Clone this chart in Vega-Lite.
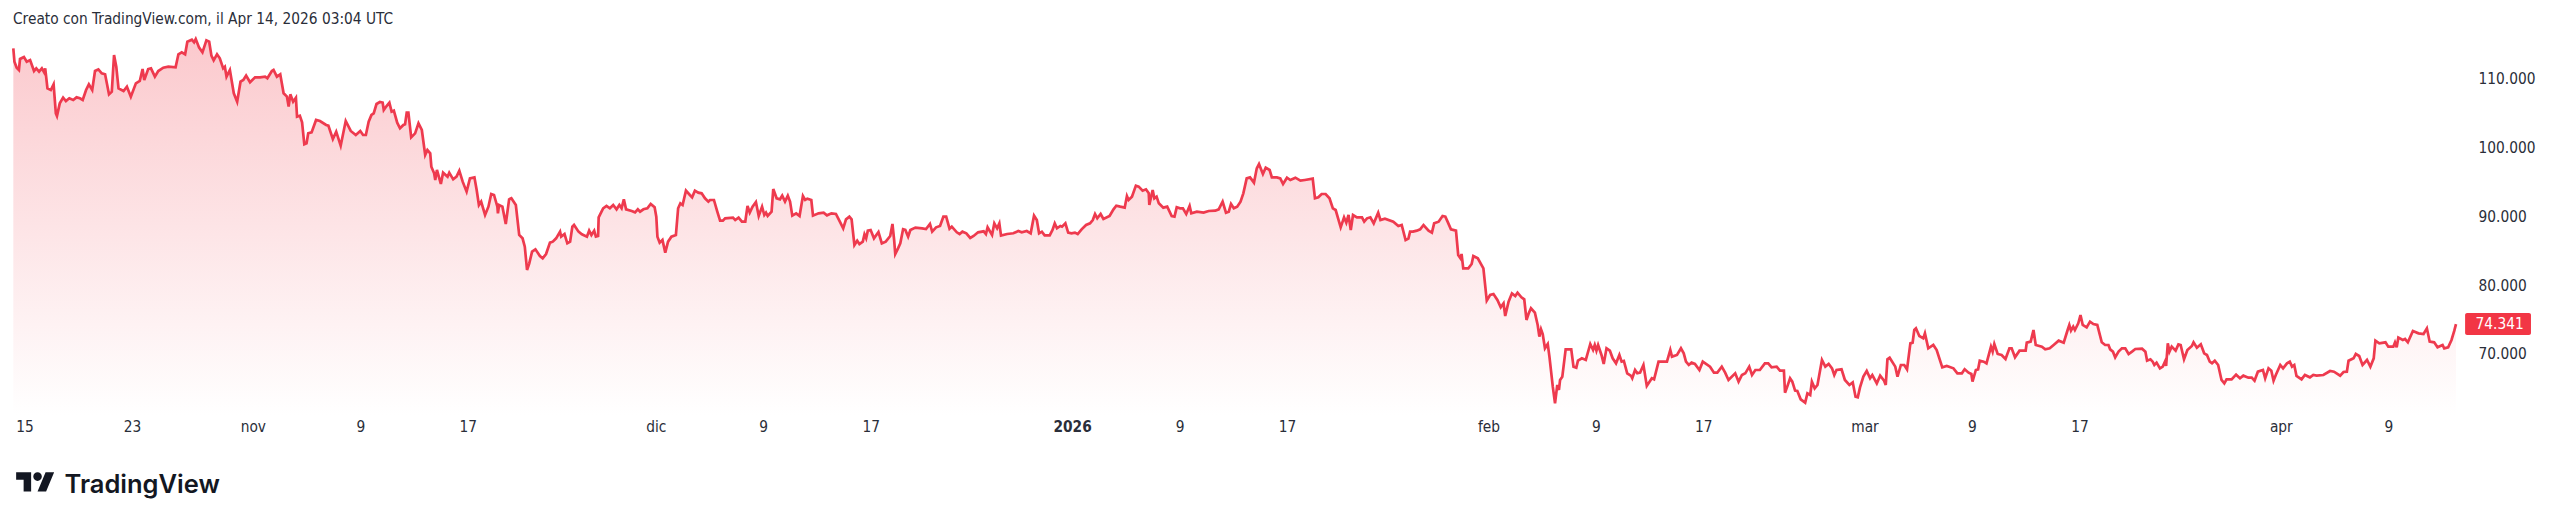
{"$schema":"https://vega.github.io/schema/vega-lite/v6.json","autosize":{"type":"none"},"padding":{"left":13,"top":34,"right":100,"bottom":106},"width":2447,"height":381,"background":"#ffffff","title":{"text":"Creato con TradingView.com, il Apr 14, 2026 03:04 UTC","anchor":"start","frame":"group","offset":6,"font":"DejaVu Sans Condensed","fontSize":15.3,"fontWeight":"normal","color":"#2a2e39"},"config":{"view":{"stroke":null}},"data":{"values":[
{"t":"2025-10-14T04:00","v":114460},{"t":"2025-10-14T06:00","v":112520},{"t":"2025-10-14T10:00","v":111650},{"t":"2025-10-14T14:00","v":111310},{"t":"2025-10-14T16:00","v":112910},{"t":"2025-10-14T23:00","v":113200},{"t":"2025-10-15T04:00","v":112520},{"t":"2025-10-15T10:00","v":112760},{"t":"2025-10-15T17:00","v":111160},{"t":"2025-10-15T21:00","v":111550},{"t":"2025-10-16T02:00","v":111070},{"t":"2025-10-16T07:00","v":111550},{"t":"2025-10-16T11:00","v":110970},{"t":"2025-10-16T13:00","v":111550},{"t":"2025-10-16T17:00","v":108640},{"t":"2025-10-16T23:00","v":108400},{"t":"2025-10-17T04:00","v":109230},{"t":"2025-10-17T08:00","v":105000},{"t":"2025-10-17T10:00","v":104620},{"t":"2025-10-17T15:00","v":106460},{"t":"2025-10-17T21:00","v":107290},{"t":"2025-10-18T02:00","v":106800},{"t":"2025-10-18T08:00","v":107190},{"t":"2025-10-18T15:00","v":106950},{"t":"2025-10-18T21:00","v":107330},{"t":"2025-10-19T03:00","v":107190},{"t":"2025-10-19T08:00","v":106950},{"t":"2025-10-19T14:00","v":108400},{"t":"2025-10-19T19:00","v":109230},{"t":"2025-10-20T01:00","v":108400},{"t":"2025-10-20T06:00","v":111160},{"t":"2025-10-20T12:00","v":111400},{"t":"2025-10-20T18:00","v":110820},{"t":"2025-10-21T00:00","v":110680},{"t":"2025-10-21T07:00","v":107770},{"t":"2025-10-21T12:00","v":108160},{"t":"2025-10-21T16:00","v":113490},{"t":"2025-10-21T20:00","v":111790},{"t":"2025-10-22T00:00","v":108640},{"t":"2025-10-22T09:00","v":108250},{"t":"2025-10-22T15:00","v":108880},{"t":"2025-10-22T22:00","v":107430},{"t":"2025-10-23T07:00","v":109370},{"t":"2025-10-23T14:00","v":109710},{"t":"2025-10-23T19:00","v":111450},{"t":"2025-10-23T22:00","v":109850},{"t":"2025-10-24T05:00","v":111450},{"t":"2025-10-24T10:00","v":111550},{"t":"2025-10-24T17:00","v":110340},{"t":"2025-10-24T23:00","v":111160},{"t":"2025-10-25T08:00","v":111650},{"t":"2025-10-25T17:00","v":111790},{"t":"2025-10-26T06:00","v":111700},{"t":"2025-10-26T11:00","v":113590},{"t":"2025-10-26T17:00","v":113880},{"t":"2025-10-26T23:00","v":113590},{"t":"2025-10-27T03:00","v":115430},{"t":"2025-10-27T11:00","v":115720},{"t":"2025-10-27T15:00","v":115330},{"t":"2025-10-27T18:00","v":115820},{"t":"2025-10-28T00:00","v":114560},{"t":"2025-10-28T06:00","v":113880},{"t":"2025-10-28T13:00","v":115620},{"t":"2025-10-28T18:00","v":115430},{"t":"2025-10-28T22:00","v":113390},{"t":"2025-10-29T02:00","v":112720},{"t":"2025-10-29T08:00","v":113590},{"t":"2025-10-29T13:00","v":113010},{"t":"2025-10-29T19:00","v":111550},{"t":"2025-10-29T22:00","v":111790},{"t":"2025-10-30T01:00","v":110340},{"t":"2025-10-30T07:00","v":111310},{"t":"2025-10-30T14:00","v":107920},{"t":"2025-10-30T20:00","v":106700},{"t":"2025-10-31T02:00","v":109610},{"t":"2025-10-31T07:00","v":109850},{"t":"2025-10-31T12:00","v":110490},{"t":"2025-10-31T19:00","v":109520},
{"t":"2025-11-01T04:00","v":110240},{"t":"2025-11-01T13:00","v":110240},{"t":"2025-11-01T22:00","v":110340},{"t":"2025-11-02T02:00","v":110100},{"t":"2025-11-02T10:00","v":111160},{"t":"2025-11-02T13:00","v":111310},{"t":"2025-11-02T19:00","v":110340},{"t":"2025-11-03T01:00","v":110680},{"t":"2025-11-03T07:00","v":107920},{"t":"2025-11-03T13:00","v":107430},{"t":"2025-11-03T16:00","v":105980},{"t":"2025-11-03T19:00","v":107770},{"t":"2025-11-04T00:00","v":106700},{"t":"2025-11-04T05:00","v":107290},{"t":"2025-11-04T07:00","v":104520},{"t":"2025-11-04T12:00","v":104670},{"t":"2025-11-04T16:00","v":103700},{"t":"2025-11-04T20:00","v":100500},{"t":"2025-11-05T00:00","v":100640},{"t":"2025-11-05T03:00","v":102100},{"t":"2025-11-05T09:00","v":102240},{"t":"2025-11-05T17:00","v":104040},{"t":"2025-11-06T00:00","v":103890},{"t":"2025-11-06T11:00","v":103310},{"t":"2025-11-06T15:00","v":103210},{"t":"2025-11-06T23:00","v":101270},{"t":"2025-11-07T05:00","v":102340},{"t":"2025-11-07T13:00","v":100300},{"t":"2025-11-07T22:00","v":103890},{"t":"2025-11-08T07:00","v":102440},{"t":"2025-11-08T16:00","v":101860},{"t":"2025-11-09T00:00","v":102440},{"t":"2025-11-09T05:00","v":101855},{"t":"2025-11-09T10:00","v":101855},{"t":"2025-11-09T15:00","v":103790},{"t":"2025-11-09T20:00","v":104765},{"t":"2025-11-10T00:00","v":105005},{"t":"2025-11-10T05:00","v":106365},{"t":"2025-11-10T11:00","v":106655},{"t":"2025-11-10T16:00","v":106555},{"t":"2025-11-10T18:00","v":105490},{"t":"2025-11-10T23:00","v":106070},{"t":"2025-11-11T04:00","v":106555},{"t":"2025-11-11T08:00","v":105250},{"t":"2025-11-11T12:00","v":105395},{"t":"2025-11-11T18:00","v":103650},{"t":"2025-11-11T23:00","v":102825},{"t":"2025-11-12T05:00","v":103310},{"t":"2025-11-12T08:00","v":103405},{"t":"2025-11-12T11:00","v":105100},{"t":"2025-11-12T14:00","v":105100},{"t":"2025-11-12T19:00","v":101515},{"t":"2025-11-13T02:00","v":102095},{"t":"2025-11-13T08:00","v":103550},{"t":"2025-11-13T14:00","v":102580},{"t":"2025-11-13T20:00","v":98945},{"t":"2025-11-14T00:00","v":99670},{"t":"2025-11-14T05:00","v":99190},{"t":"2025-11-14T07:00","v":97250},{"t":"2025-11-14T12:00","v":96280},{"t":"2025-11-14T14:00","v":95310},{"t":"2025-11-14T17:00","v":96765},{"t":"2025-11-15T00:00","v":94730},{"t":"2025-11-15T04:00","v":96375},{"t":"2025-11-15T12:00","v":95795},{"t":"2025-11-15T15:00","v":96375},{"t":"2025-11-15T22:00","v":95405},{"t":"2025-11-16T04:00","v":95795},{"t":"2025-11-16T09:00","v":96665},{"t":"2025-11-16T15:00","v":95070},{"t":"2025-11-16T22:00","v":93615},{"t":"2025-11-17T04:00","v":95550},{"t":"2025-11-17T12:00","v":95700},{"t":"2025-11-17T16:00","v":93855},{"t":"2025-11-17T20:00","v":91675},{"t":"2025-11-18T00:00","v":92160},{"t":"2025-11-18T07:00","v":90220},{"t":"2025-11-18T13:00","v":91430},{"t":"2025-11-18T18:00","v":93275},{"t":"2025-11-18T23:00","v":93130},{"t":"2025-11-19T05:00","v":91430},{"t":"2025-11-19T06:00","v":90460},{"t":"2025-11-19T08:00","v":91675},{"t":"2025-11-19T14:00","v":91430},{"t":"2025-11-19T20:00","v":88910},{"t":"2025-11-20T02:00","v":92500},{"t":"2025-11-20T06:00","v":92645},{"t":"2025-11-20T14:00","v":91675},{"t":"2025-11-20T20:00","v":87310},{"t":"2025-11-21T02:00","v":86825},{"t":"2025-11-21T06:00","v":85615},{"t":"2025-11-21T10:00","v":82220},{"t":"2025-11-21T14:00","v":83190},{"t":"2025-11-21T19:00","v":84885},{"t":"2025-11-22T01:00","v":85225},{"t":"2025-11-22T09:00","v":84255},{"t":"2025-11-22T14:00","v":83915},{"t":"2025-11-22T20:00","v":84545},{"t":"2025-11-23T03:00","v":86195},{"t":"2025-11-23T08:00","v":86340},{"t":"2025-11-23T14:00","v":86825},{"t":"2025-11-23T21:00","v":87795},{"t":"2025-11-23T23:00","v":87070},{"t":"2025-11-24T05:00","v":87455},{"t":"2025-11-24T10:00","v":86100},{"t":"2025-11-24T15:00","v":86340},{"t":"2025-11-24T19:00","v":88520},{"t":"2025-11-24T22:00","v":88765},{"t":"2025-11-25T06:00","v":87795},{"t":"2025-11-25T12:00","v":87410},{"t":"2025-11-25T21:00","v":87070},{"t":"2025-11-26T01:00","v":87940},{"t":"2025-11-26T05:00","v":87310},{"t":"2025-11-26T10:00","v":87940},{"t":"2025-11-26T13:00","v":87070},{"t":"2025-11-26T17:00","v":87165},{"t":"2025-11-26T18:00","v":89880},{"t":"2025-11-27T02:00","v":91190},{"t":"2025-11-27T08:00","v":91530},{"t":"2025-11-27T14:00","v":91190},{"t":"2025-11-27T20:00","v":91675},{"t":"2025-11-28T02:00","v":91045},{"t":"2025-11-28T07:00","v":91675},{"t":"2025-11-28T11:00","v":91190},{"t":"2025-11-28T15:00","v":92500},{"t":"2025-11-28T19:00","v":91045},{"t":"2025-11-29T05:00","v":90800},{"t":"2025-11-29T11:00","v":90610},{"t":"2025-11-29T16:00","v":91045},{"t":"2025-11-29T20:00","v":90705},{"t":"2025-11-30T02:00","v":91045},{"t":"2025-11-30T09:00","v":91190},{"t":"2025-11-30T15:00","v":91820},{"t":"2025-11-30T22:00","v":91335},
{"t":"2025-12-01T01:00","v":89975},{"t":"2025-12-01T03:00","v":87070},{"t":"2025-12-01T07:00","v":86195},{"t":"2025-12-01T12:00","v":86585},{"t":"2025-12-01T17:00","v":84740},{"t":"2025-12-01T22:00","v":86340},{"t":"2025-12-02T04:00","v":87070},{"t":"2025-12-02T12:00","v":87310},{"t":"2025-12-02T16:00","v":91190},{"t":"2025-12-02T20:00","v":91915},{"t":"2025-12-03T00:00","v":91675},{"t":"2025-12-03T06:00","v":93760},{"t":"2025-12-03T13:00","v":93130},{"t":"2025-12-03T17:00","v":92790},{"t":"2025-12-03T22:00","v":93760},{"t":"2025-12-04T04:00","v":93470},{"t":"2025-12-04T10:00","v":93370},{"t":"2025-12-04T16:00","v":92645},{"t":"2025-12-04T22:00","v":92160},{"t":"2025-12-05T01:00","v":92400},{"t":"2025-12-05T08:00","v":92400},{"t":"2025-12-05T14:00","v":90705},{"t":"2025-12-05T19:00","v":89395},{"t":"2025-12-06T00:00","v":89395},{"t":"2025-12-06T04:00","v":89735},{"t":"2025-12-06T18:00","v":89830},{"t":"2025-12-06T22:00","v":89490},{"t":"2025-12-07T04:00","v":89830},{"t":"2025-12-07T10:00","v":89250},{"t":"2025-12-07T16:00","v":89250},{"t":"2025-12-07T20:00","v":91530},{"t":"2025-12-08T00:00","v":90560},{"t":"2025-12-08T05:00","v":91430},{"t":"2025-12-08T11:00","v":92110},{"t":"2025-12-08T16:00","v":90075},{"t":"2025-12-08T22:00","v":91430},{"t":"2025-12-09T02:00","v":90220},{"t":"2025-12-09T05:00","v":90560},{"t":"2025-12-09T08:00","v":90075},{"t":"2025-12-09T15:00","v":90705},{"t":"2025-12-09T18:00","v":94000},{"t":"2025-12-10T00:00","v":92645},{"t":"2025-12-10T06:00","v":92500},{"t":"2025-12-10T10:00","v":93030},{"t":"2025-12-10T15:00","v":92160},{"t":"2025-12-10T20:00","v":93030},{"t":"2025-12-11T00:00","v":92160},{"t":"2025-12-11T04:00","v":90120},{"t":"2025-12-11T11:00","v":90460},{"t":"2025-12-11T17:00","v":90075},{"t":"2025-12-11T23:00","v":92985},{"t":"2025-12-12T03:00","v":92400},{"t":"2025-12-12T07:00","v":92595},{"t":"2025-12-12T14:00","v":92400},{"t":"2025-12-12T17:00","v":90120},{"t":"2025-12-13T03:00","v":90460},{"t":"2025-12-13T12:00","v":90560},{"t":"2025-12-13T18:00","v":90170},{"t":"2025-12-14T02:00","v":90460},{"t":"2025-12-14T10:00","v":90365},{"t":"2025-12-14T17:00","v":89250},{"t":"2025-12-14T23:00","v":88280},{"t":"2025-12-15T04:00","v":89590},{"t":"2025-12-15T10:00","v":89975},{"t":"2025-12-15T14:00","v":89590},{"t":"2025-12-15T19:00","v":85855},{"t":"2025-12-16T00:00","v":86485},{"t":"2025-12-16T04:00","v":86000},{"t":"2025-12-16T10:00","v":86340},{"t":"2025-12-16T13:00","v":87410},{"t":"2025-12-16T16:00","v":86825},{"t":"2025-12-16T19:00","v":87940},{"t":"2025-12-17T00:00","v":88040},{"t":"2025-12-17T06:00","v":86825},{"t":"2025-12-17T14:00","v":87745},{"t":"2025-12-17T20:00","v":86100},{"t":"2025-12-18T03:00","v":86340},{"t":"2025-12-18T11:00","v":87165},{"t":"2025-12-18T15:00","v":88910},{"t":"2025-12-18T18:00","v":86585},{"t":"2025-12-18T20:00","v":84545},{"t":"2025-12-19T01:00","v":85370},{"t":"2025-12-19T05:00","v":86100},{"t":"2025-12-19T10:00","v":88135},{"t":"2025-12-19T14:00","v":88040},{"t":"2025-12-19T19:00","v":87070},{"t":"2025-12-19T23:00","v":88040},{"t":"2025-12-20T08:00","v":88380},{"t":"2025-12-20T20:00","v":88280},{"t":"2025-12-21T03:00","v":88185},{"t":"2025-12-21T10:00","v":88910},{"t":"2025-12-21T14:00","v":87795},{"t":"2025-12-21T21:00","v":88425},{"t":"2025-12-22T04:00","v":88620},{"t":"2025-12-22T10:00","v":89975},{"t":"2025-12-22T15:00","v":89975},{"t":"2025-12-22T21:00","v":88230},{"t":"2025-12-23T01:00","v":88525},{"t":"2025-12-23T10:00","v":87700},{"t":"2025-12-23T15:00","v":87455},{"t":"2025-12-23T20:00","v":87795},{"t":"2025-12-24T03:00","v":87555},{"t":"2025-12-24T10:00","v":86875},{"t":"2025-12-24T16:00","v":87165},{"t":"2025-12-25T00:00","v":87700},{"t":"2025-12-25T10:00","v":87845},{"t":"2025-12-25T14:00","v":87455},{"t":"2025-12-25T17:00","v":88425},{"t":"2025-12-26T01:00","v":87310},{"t":"2025-12-26T05:00","v":89005},{"t":"2025-12-26T10:00","v":88280},{"t":"2025-12-26T14:00","v":89005},{"t":"2025-12-26T17:00","v":87215},{"t":"2025-12-27T04:00","v":87455},{"t":"2025-12-27T15:00","v":87555},{"t":"2025-12-28T00:00","v":87895},{"t":"2025-12-28T06:00","v":87700},{"t":"2025-12-28T15:00","v":87895},{"t":"2025-12-28T22:00","v":87555},{"t":"2025-12-29T04:00","v":90120},{"t":"2025-12-29T09:00","v":89490},{"t":"2025-12-29T13:00","v":87555},{"t":"2025-12-29T18:00","v":87795},{"t":"2025-12-29T23:00","v":87265},{"t":"2025-12-30T08:00","v":87265},{"t":"2025-12-30T13:00","v":88040},{"t":"2025-12-30T17:00","v":89005},{"t":"2025-12-30T21:00","v":88280},{"t":"2025-12-31T03:00","v":88620},{"t":"2025-12-31T06:00","v":88520},{"t":"2025-12-31T12:00","v":89005},{"t":"2025-12-31T17:00","v":87650},{"t":"2025-12-31T23:00","v":87555},
{"t":"2026-01-01T05:00","v":87650},{"t":"2026-01-01T10:00","v":87455},{"t":"2026-01-01T17:00","v":88135},{"t":"2026-01-02T01:00","v":88765},{"t":"2026-01-02T08:00","v":89005},{"t":"2026-01-02T13:00","v":89490},{"t":"2026-01-02T17:00","v":90365},{"t":"2026-01-02T21:00","v":89735},{"t":"2026-01-03T03:00","v":90365},{"t":"2026-01-03T08:00","v":89640},{"t":"2026-01-03T19:00","v":90075},{"t":"2026-01-04T02:00","v":91045},{"t":"2026-01-04T07:00","v":91575},{"t":"2026-01-04T14:00","v":91430},{"t":"2026-01-04T22:00","v":91285},{"t":"2026-01-05T02:00","v":92980},{"t":"2026-01-05T05:00","v":92400},{"t":"2026-01-05T11:00","v":92885},{"t":"2026-01-05T18:00","v":94485},{"t":"2026-01-05T23:00","v":94340},{"t":"2026-01-06T06:00","v":93760},{"t":"2026-01-06T12:00","v":93950},{"t":"2026-01-06T17:00","v":93370},{"t":"2026-01-06T18:00","v":91675},{"t":"2026-01-07T00:00","v":93855},{"t":"2026-01-07T03:00","v":92645},{"t":"2026-01-07T07:00","v":92885},{"t":"2026-01-07T11:00","v":91915},{"t":"2026-01-07T19:00","v":91285},{"t":"2026-01-08T02:00","v":91430},{"t":"2026-01-08T10:00","v":90075},{"t":"2026-01-08T15:00","v":89975},{"t":"2026-01-08T19:00","v":91335},{"t":"2026-01-09T01:00","v":91190},{"t":"2026-01-09T06:00","v":91190},{"t":"2026-01-09T12:00","v":90365},{"t":"2026-01-09T18:00","v":91530},{"t":"2026-01-09T21:00","v":90460},{"t":"2026-01-10T07:00","v":90705},{"t":"2026-01-10T19:00","v":90560},{"t":"2026-01-11T04:00","v":90800},{"t":"2026-01-11T16:00","v":90850},{"t":"2026-01-11T22:00","v":91045},{"t":"2026-01-12T05:00","v":92160},{"t":"2026-01-12T11:00","v":90560},{"t":"2026-01-12T16:00","v":90705},{"t":"2026-01-12T20:00","v":91820},{"t":"2026-01-13T01:00","v":91190},{"t":"2026-01-13T07:00","v":91430},{"t":"2026-01-13T13:00","v":92160},{"t":"2026-01-13T18:00","v":93370},{"t":"2026-01-14T00:00","v":95550},{"t":"2026-01-14T06:00","v":95695},{"t":"2026-01-14T13:00","v":94920},{"t":"2026-01-14T18:00","v":97005},{"t":"2026-01-14T22:00","v":97635},{"t":"2026-01-15T05:00","v":96180},{"t":"2026-01-15T10:00","v":97105},{"t":"2026-01-15T17:00","v":96765},{"t":"2026-01-15T21:00","v":95695},{"t":"2026-01-16T06:00","v":95695},{"t":"2026-01-16T12:00","v":95550},{"t":"2026-01-16T17:00","v":94725},{"t":"2026-01-17T00:00","v":95645},{"t":"2026-01-17T06:00","v":95310},{"t":"2026-01-17T15:00","v":95645},{"t":"2026-01-18T00:00","v":95210},{"t":"2026-01-18T08:00","v":95310},{"t":"2026-01-18T22:00","v":95500},{"t":"2026-01-19T02:00","v":92645},{"t":"2026-01-19T08:00","v":92790},{"t":"2026-01-19T14:00","v":93275},{"t":"2026-01-19T21:00","v":93275},{"t":"2026-01-20T04:00","v":92645},{"t":"2026-01-20T10:00","v":91190},{"t":"2026-01-20T15:00","v":90945},{"t":"2026-01-21T00:00","v":88425},{"t":"2026-01-21T06:00","v":89880},{"t":"2026-01-21T10:00","v":89105},{"t":"2026-01-21T14:00","v":90220},{"t":"2026-01-21T18:00","v":88040},{"t":"2026-01-21T22:00","v":90220},{"t":"2026-01-22T05:00","v":89880},{"t":"2026-01-22T14:00","v":89880},{"t":"2026-01-22T18:00","v":89250},{"t":"2026-01-22T23:00","v":89735},{"t":"2026-01-23T05:00","v":89880},{"t":"2026-01-23T11:00","v":89005},{"t":"2026-01-23T19:00","v":90560},{"t":"2026-01-23T23:00","v":89490},{"t":"2026-01-24T07:00","v":89685},{"t":"2026-01-24T22:00","v":89250},{"t":"2026-01-25T07:00","v":88620},{"t":"2026-01-25T13:00","v":88765},{"t":"2026-01-25T20:00","v":86585},{"t":"2026-01-26T01:00","v":86775},{"t":"2026-01-26T04:00","v":87795},{"t":"2026-01-26T09:00","v":87795},{"t":"2026-01-26T16:00","v":87940},{"t":"2026-01-26T22:00","v":88135},{"t":"2026-01-27T04:00","v":88765},{"t":"2026-01-27T13:00","v":87940},{"t":"2026-01-27T19:00","v":87650},{"t":"2026-01-27T23:00","v":89005},{"t":"2026-01-28T07:00","v":89250},{"t":"2026-01-28T14:00","v":90075},{"t":"2026-01-28T19:00","v":89975},{"t":"2026-01-28T23:00","v":89250},{"t":"2026-01-29T05:00","v":88135},{"t":"2026-01-29T14:00","v":87940},{"t":"2026-01-29T18:00","v":84400},{"t":"2026-01-29T22:00","v":83915},{"t":"2026-01-30T00:00","v":84545},{"t":"2026-01-30T03:00","v":82460},{"t":"2026-01-30T12:00","v":82460},{"t":"2026-01-30T18:00","v":83090},{"t":"2026-01-30T21:00","v":84255},{"t":"2026-01-31T05:00","v":83915},{"t":"2026-01-31T15:00","v":82460},{"t":"2026-01-31T21:00","v":77760},
{"t":"2026-02-01T03:00","v":78585},{"t":"2026-02-01T09:00","v":78730},{"t":"2026-02-01T16:00","v":77855},{"t":"2026-02-01T22:00","v":76790},{"t":"2026-02-02T03:00","v":77370},{"t":"2026-02-02T06:00","v":75530},{"t":"2026-02-02T12:00","v":77615},{"t":"2026-02-02T18:00","v":78825},{"t":"2026-02-03T00:00","v":78440},{"t":"2026-02-03T04:00","v":78925},{"t":"2026-02-03T11:00","v":78245},{"t":"2026-02-03T16:00","v":77955},{"t":"2026-02-03T20:00","v":74950},{"t":"2026-02-04T00:00","v":75915},{"t":"2026-02-04T04:00","v":76645},{"t":"2026-02-04T11:00","v":76015},{"t":"2026-02-04T16:00","v":74220},{"t":"2026-02-04T19:00","v":72525},{"t":"2026-02-04T22:00","v":73590},{"t":"2026-02-05T01:00","v":72910},{"t":"2026-02-05T05:00","v":70825},{"t":"2026-02-05T10:00","v":71455},{"t":"2026-02-05T13:00","v":69615},{"t":"2026-02-05T19:00","v":65250},{"t":"2026-02-05T23:00","v":62830},{"t":"2026-02-06T03:00","v":65495},{"t":"2026-02-06T06:00","v":64770},{"t":"2026-02-06T08:00","v":66220},{"t":"2026-02-06T12:00","v":66705},{"t":"2026-02-06T18:00","v":70680},{"t":"2026-02-07T04:00","v":70680},{"t":"2026-02-07T08:00","v":68160},{"t":"2026-02-07T13:00","v":68015},{"t":"2026-02-07T16:00","v":69035},{"t":"2026-02-07T23:00","v":69375},{"t":"2026-02-08T06:00","v":69130},{"t":"2026-02-08T14:00","v":71455},{"t":"2026-02-08T19:00","v":70585},{"t":"2026-02-08T22:00","v":71310},{"t":"2026-02-09T01:00","v":70485},{"t":"2026-02-09T04:00","v":71310},{"t":"2026-02-09T10:00","v":69855},{"t":"2026-02-09T14:00","v":68545},{"t":"2026-02-09T19:00","v":70825},{"t":"2026-02-10T01:00","v":70485},{"t":"2026-02-10T06:00","v":69375},{"t":"2026-02-10T12:00","v":68645},{"t":"2026-02-10T18:00","v":69855},{"t":"2026-02-10T22:00","v":68885},{"t":"2026-02-11T02:00","v":68985},{"t":"2026-02-11T08:00","v":67190},{"t":"2026-02-11T15:00","v":66800},{"t":"2026-02-11T17:00","v":66465},{"t":"2026-02-11T22:00","v":67675},{"t":"2026-02-12T02:00","v":67190},{"t":"2026-02-12T07:00","v":67290},{"t":"2026-02-12T13:00","v":68405},{"t":"2026-02-12T19:00","v":65350},{"t":"2026-02-13T04:00","v":66465},{"t":"2026-02-13T08:00","v":66320},{"t":"2026-02-13T16:00","v":68885},{"t":"2026-02-14T07:00","v":68885},{"t":"2026-02-14T13:00","v":70585},{"t":"2026-02-14T16:00","v":69615},{"t":"2026-02-15T01:00","v":69855},{"t":"2026-02-15T08:00","v":70825},{"t":"2026-02-15T13:00","v":70100},{"t":"2026-02-15T17:00","v":68885},{"t":"2026-02-15T22:00","v":68405},{"t":"2026-02-16T03:00","v":68745},{"t":"2026-02-16T09:00","v":68550},{"t":"2026-02-16T17:00","v":67675},{"t":"2026-02-16T23:00","v":68885},{"t":"2026-02-17T12:00","v":68160},{"t":"2026-02-17T19:00","v":67290},{"t":"2026-02-18T01:00","v":67290},{"t":"2026-02-18T09:00","v":68160},{"t":"2026-02-18T15:00","v":67290},{"t":"2026-02-18T21:00","v":66220},{"t":"2026-02-19T09:00","v":67190},{"t":"2026-02-19T15:00","v":65980},{"t":"2026-02-19T21:00","v":66950},{"t":"2026-02-20T03:00","v":67190},{"t":"2026-02-20T10:00","v":68160},{"t":"2026-02-20T15:00","v":66950},{"t":"2026-02-20T21:00","v":67675},{"t":"2026-02-21T05:00","v":67675},{"t":"2026-02-21T14:00","v":68645},{"t":"2026-02-21T20:00","v":68645},{"t":"2026-02-22T02:00","v":68060},{"t":"2026-02-22T11:00","v":68160},{"t":"2026-02-22T17:00","v":67575},{"t":"2026-02-23T00:00","v":67575},{"t":"2026-02-23T02:00","v":64375},{"t":"2026-02-23T06:00","v":65250},{"t":"2026-02-23T11:00","v":66460},{"t":"2026-02-23T15:00","v":65975},{"t":"2026-02-23T20:00","v":64670},{"t":"2026-02-24T00:00","v":64620},{"t":"2026-02-24T06:00","v":63410},{"t":"2026-02-24T14:00","v":62920},{"t":"2026-02-24T18:00","v":64280},{"t":"2026-02-24T23:00","v":64035},{"t":"2026-02-25T02:00","v":65975},{"t":"2026-02-25T07:00","v":65005},{"t":"2026-02-25T12:00","v":65490},{"t":"2026-02-25T20:00","v":69130},{"t":"2026-02-26T02:00","v":68160},{"t":"2026-02-26T08:00","v":68545},{"t":"2026-02-26T14:00","v":67915},{"t":"2026-02-26T18:00","v":66945},{"t":"2026-02-26T22:00","v":67675},{"t":"2026-02-27T07:00","v":67770},{"t":"2026-02-27T13:00","v":66220},{"t":"2026-02-27T21:00","v":65490},{"t":"2026-02-28T03:00","v":65880},{"t":"2026-02-28T08:00","v":63795},{"t":"2026-02-28T12:00","v":63700},{"t":"2026-02-28T16:00","v":65150},{"t":"2026-02-28T22:00","v":66705},
{"t":"2026-03-01T04:00","v":67530},{"t":"2026-03-01T10:00","v":66460},{"t":"2026-03-01T14:00","v":66945},{"t":"2026-03-01T22:00","v":65735},{"t":"2026-03-02T04:00","v":66850},{"t":"2026-03-02T11:00","v":66120},{"t":"2026-03-02T14:00","v":65490},{"t":"2026-03-02T17:00","v":69225},{"t":"2026-03-02T21:00","v":69465},{"t":"2026-03-03T07:00","v":68160},{"t":"2026-03-03T11:00","v":66705},{"t":"2026-03-03T17:00","v":68400},{"t":"2026-03-03T23:00","v":68400},{"t":"2026-03-04T04:00","v":67770},{"t":"2026-03-04T10:00","v":71550},{"t":"2026-03-04T14:00","v":71650},{"t":"2026-03-04T17:00","v":73490},{"t":"2026-03-04T20:00","v":73735},{"t":"2026-03-05T02:00","v":72620},{"t":"2026-03-05T09:00","v":72280},{"t":"2026-03-05T12:00","v":73005},{"t":"2026-03-05T18:00","v":70825},{"t":"2026-03-06T03:00","v":71310},{"t":"2026-03-06T09:00","v":70580},{"t":"2026-03-06T19:00","v":68060},{"t":"2026-03-07T03:00","v":68255},{"t":"2026-03-07T15:00","v":67915},{"t":"2026-03-07T22:00","v":67190},{"t":"2026-03-08T06:00","v":67190},{"t":"2026-03-08T11:00","v":67770},{"t":"2026-03-08T18:00","v":67285},{"t":"2026-03-08T23:00","v":67090},{"t":"2026-03-09T01:00","v":65975},{"t":"2026-03-09T07:00","v":67675},{"t":"2026-03-09T11:00","v":67770},{"t":"2026-03-09T14:00","v":69030},{"t":"2026-03-09T21:00","v":68885},{"t":"2026-03-10T02:00","v":68645},{"t":"2026-03-10T10:00","v":71065},{"t":"2026-03-10T13:00","v":70340},{"t":"2026-03-10T16:00","v":71455},{"t":"2026-03-10T22:00","v":70000},{"t":"2026-03-11T05:00","v":69855},{"t":"2026-03-11T12:00","v":69275},{"t":"2026-03-11T19:00","v":70825},{"t":"2026-03-11T23:00","v":70825},{"t":"2026-03-12T05:00","v":69515},{"t":"2026-03-12T13:00","v":70485},{"t":"2026-03-13T00:00","v":70485},{"t":"2026-03-13T02:00","v":71650},{"t":"2026-03-13T09:00","v":71795},{"t":"2026-03-13T14:00","v":73490},{"t":"2026-03-13T18:00","v":71310},{"t":"2026-03-14T05:00","v":71065},{"t":"2026-03-14T11:00","v":70680},{"t":"2026-03-14T19:00","v":70825},{"t":"2026-03-15T02:00","v":71310},{"t":"2026-03-15T11:00","v":71940},{"t":"2026-03-15T20:00","v":71650},{"t":"2026-03-16T03:00","v":73490},{"t":"2026-03-16T06:00","v":74220},{"t":"2026-03-16T09:00","v":73395},{"t":"2026-03-16T13:00","v":73975},{"t":"2026-03-16T16:00","v":73490},{"t":"2026-03-16T22:00","v":74460},{"t":"2026-03-17T02:00","v":75675},{"t":"2026-03-17T06:00","v":74220},{"t":"2026-03-17T13:00","v":73880},{"t":"2026-03-17T19:00","v":74705},{"t":"2026-03-18T01:00","v":74365},{"t":"2026-03-18T08:00","v":74220},{"t":"2026-03-18T16:00","v":71695},{"t":"2026-03-18T22:00","v":71310},{"t":"2026-03-19T04:00","v":71310},{"t":"2026-03-19T07:00","v":70680},{"t":"2026-03-19T12:00","v":70340},{"t":"2026-03-19T16:00","v":69515},{"t":"2026-03-19T22:00","v":70340},{"t":"2026-03-20T04:00","v":70825},{"t":"2026-03-20T10:00","v":70825},{"t":"2026-03-20T16:00","v":70000},{"t":"2026-03-20T22:00","v":70340},{"t":"2026-03-21T04:00","v":70725},{"t":"2026-03-21T16:00","v":70775},{"t":"2026-03-21T22:00","v":70340},{"t":"2026-03-22T01:00","v":69030},{"t":"2026-03-22T07:00","v":69225},{"t":"2026-03-22T11:00","v":68885},{"t":"2026-03-22T14:00","v":68400},{"t":"2026-03-22T18:00","v":68740},{"t":"2026-03-23T00:00","v":67915},{"t":"2026-03-23T05:00","v":68160},{"t":"2026-03-23T09:00","v":68885},{"t":"2026-03-23T11:00","v":68255},{"t":"2026-03-23T14:00","v":71550},{"t":"2026-03-23T17:00","v":70340},{"t":"2026-03-23T21:00","v":71065},{"t":"2026-03-24T04:00","v":70485},{"t":"2026-03-24T09:00","v":71405},{"t":"2026-03-24T13:00","v":71310},{"t":"2026-03-24T19:00","v":69225},{"t":"2026-03-25T01:00","v":70580},{"t":"2026-03-25T09:00","v":71165},{"t":"2026-03-25T12:00","v":71695},{"t":"2026-03-25T18:00","v":70920},{"t":"2026-03-26T01:00","v":71405},{"t":"2026-03-26T07:00","v":70100},{"t":"2026-03-26T12:00","v":69855},{"t":"2026-03-26T17:00","v":68885},{"t":"2026-03-26T21:00","v":68645},{"t":"2026-03-27T02:00","v":69030},{"t":"2026-03-27T08:00","v":68400},{"t":"2026-03-27T14:00","v":66220},{"t":"2026-03-27T19:00","v":65735},{"t":"2026-03-27T23:00","v":66315},{"t":"2026-03-28T08:00","v":66315},{"t":"2026-03-28T16:00","v":66995},{"t":"2026-03-28T23:00","v":66460},{"t":"2026-03-29T05:00","v":66850},{"t":"2026-03-29T14:00","v":66560},{"t":"2026-03-29T20:00","v":66560},{"t":"2026-03-30T01:00","v":66120},{"t":"2026-03-30T07:00","v":67430},{"t":"2026-03-30T16:00","v":67675},{"t":"2026-03-30T20:00","v":66460},{"t":"2026-03-31T02:00","v":67915},{"t":"2026-03-31T07:00","v":67575},{"t":"2026-03-31T11:00","v":66120},{"t":"2026-03-31T15:00","v":66945},{"t":"2026-03-31T23:00","v":68400},
{"t":"2026-04-01T04:00","v":67915},{"t":"2026-04-01T11:00","v":68645},{"t":"2026-04-01T16:00","v":68885},{"t":"2026-04-01T20:00","v":68160},{"t":"2026-04-02T00:00","v":68400},{"t":"2026-04-02T04:00","v":66800},{"t":"2026-04-02T13:00","v":66315},{"t":"2026-04-02T19:00","v":66945},{"t":"2026-04-03T04:00","v":66605},{"t":"2026-04-03T10:00","v":66945},{"t":"2026-04-03T16:00","v":66850},{"t":"2026-04-04T04:00","v":66945},{"t":"2026-04-04T16:00","v":67530},{"t":"2026-04-04T23:00","v":67430},{"t":"2026-04-05T10:00","v":66850},{"t":"2026-04-05T16:00","v":67385},{"t":"2026-04-05T22:00","v":67430},{"t":"2026-04-06T01:00","v":69030},{"t":"2026-04-06T10:00","v":69370},{"t":"2026-04-06T14:00","v":70000},{"t":"2026-04-06T20:00","v":69710},{"t":"2026-04-07T02:00","v":68400},{"t":"2026-04-07T10:00","v":69130},{"t":"2026-04-07T16:00","v":68160},{"t":"2026-04-07T22:00","v":69370},{"t":"2026-04-08T01:00","v":71940},{"t":"2026-04-08T08:00","v":71550},{"t":"2026-04-08T19:00","v":71695},{"t":"2026-04-09T00:00","v":71065},{"t":"2026-04-09T09:00","v":71065},{"t":"2026-04-09T12:00","v":71695},{"t":"2026-04-09T15:00","v":70970},{"t":"2026-04-09T18:00","v":72375},{"t":"2026-04-10T02:00","v":72035},{"t":"2026-04-10T06:00","v":72180},{"t":"2026-04-10T11:00","v":71695},{"t":"2026-04-10T20:00","v":73345},{"t":"2026-04-11T06:00","v":73005},{"t":"2026-04-11T15:00","v":72910},{"t":"2026-04-11T21:00","v":73735},{"t":"2026-04-12T02:00","v":71795},{"t":"2026-04-12T10:00","v":71695},{"t":"2026-04-12T16:00","v":70970},{"t":"2026-04-13T01:00","v":71310},{"t":"2026-04-13T04:00","v":70825},{"t":"2026-04-13T11:00","v":70970},{"t":"2026-04-13T17:00","v":72035},{"t":"2026-04-13T22:00","v":73395},{"t":"2026-04-14T01:00","v":74341}
]},"layer":[
{"mark":{"type":"area","interpolate":"linear","color":{"gradient":"linear","x1":0,"y1":0,"x2":0,"y2":1,"stops":[{"offset":0,"color":"#fbc9cd"},{"offset":1,"color":"#ffffff"}]}},"encoding":{"x":{"field":"t","type":"temporal","scale":{"type":"time","domain":["2025-10-14T03:26:00","2026-04-14T08:10:00"]},"axis":{"orient":"bottom","domain":false,"ticks":false,"grid":false,"values":["2025-10-15T00:00:00","2025-10-23T00:00:00","2025-11-01T00:00:00","2025-11-09T00:00:00","2025-11-17T00:00:00","2025-12-01T00:00:00","2025-12-09T00:00:00","2025-12-17T00:00:00","2026-01-01T00:00:00","2026-01-09T00:00:00","2026-01-17T00:00:00","2026-02-01T00:00:00","2026-02-09T00:00:00","2026-02-17T00:00:00","2026-03-01T00:00:00","2026-03-09T00:00:00","2026-03-17T00:00:00","2026-04-01T00:00:00","2026-04-09T00:00:00"],"labelExpr":"date(datum.value)==1 ? (month(datum.value)==0 ? '2026' : ['gen','feb','mar','apr','mag','giu','lug','ago','set','ott','nov','dic'][month(datum.value)]) : ''+date(datum.value)","labelFont":"DejaVu Sans Condensed","labelFontSize":15.3,"labelColor":"#2a2e39","labelPadding":4,"labelFontWeight":{"condition":{"test":"month(datum.value)==0 && date(datum.value)==1","value":"bold"},"value":"normal"},"labelFlush":false,"labelOverlap":false,"title":"TradingView","titleFont":"Inter","titleFontSize":25.5,"titleFontWeight":600,"titleColor":"#131722","titleAlign":"left","titleBaseline":"alphabetic","titleAnchor":"start","titleX":51,"titleY":77}},"y":{"field":"v","type":"quantitative","scale":{"domain":[61127,116545],"zero":false,"nice":false},"axis":{"orient":"right","domain":false,"ticks":false,"grid":false,"values":[70000,80000,90000,100000,110000],"labelExpr":"replace(format(datum.value, ','), ',', '.')","labelFont":"DejaVu Sans Condensed","labelFontSize":15.3,"labelColor":"#2a2e39","labelPadding":18,"title":null}},"y2":{"datum":61127}}},
{"mark":{"type":"line","color":"#ee3a4e","strokeWidth":2.7,"interpolate":"linear"},"encoding":{"x":{"field":"t","type":"temporal"},"y":{"field":"v","type":"quantitative"}}},
{"data":{"values":[{"label":"74.341"}]},"mark":{"type":"rect","color":"#f23645","cornerRadius":2},"encoding":{"x":{"datum":{"year":2026,"month":4,"date":14,"hours":17,"minutes":16},"type":"temporal"},"x2":{"datum":{"year":2026,"month":4,"date":19,"hours":15}},"y":{"datum":75965,"type":"quantitative"},"y2":{"datum":72765}}},
{"data":{"values":[{"label":"74.341"}]},"mark":{"type":"text","color":"#ffffff","font":"DejaVu Sans Condensed","fontSize":15.3,"align":"center","baseline":"middle"},"encoding":{"x":{"datum":{"year":2026,"month":4,"date":17,"hours":7},"type":"temporal"},"y":{"datum":74341,"type":"quantitative"},"text":{"field":"label"}}},
{"data":{"values":[{"logo":"TradingView"}]},"mark":{"type":"point","filled":true,"opacity":1,"color":"#131722","size":1444,"shape":"M-0.211 0.507H-0.606V-0.113H-1V-0.507H-0.211ZM0.577 0.507H0.127L0.549 -0.507H1ZM-0.098 -0.282a0.225 0.225 0 1 0 0.45 0a0.225 0.225 0 1 0 -0.45 0Z"},"encoding":{"x":{"datum":{"year":2025,"month":10,"date":15,"hours":19},"type":"temporal"},"y":{"datum":51385,"type":"quantitative"}}}
]}
